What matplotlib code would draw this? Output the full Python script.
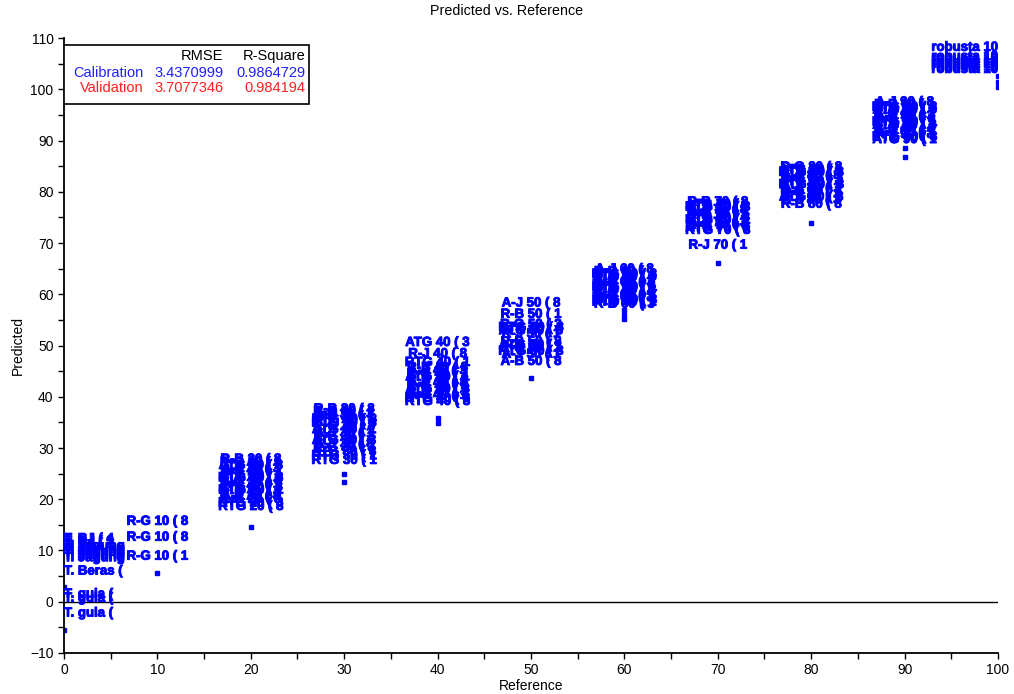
# Predicted vs. Reference plot (PLS regression style)
import matplotlib
matplotlib.use("Agg")
import matplotlib.pyplot as plt
import matplotlib.patheffects as pe
from matplotlib.patches import Rectangle

plt.rcParams['font.family'] = ['Liberation Sans', 'DejaVu Sans']

# reference level of every labelled sample group
ref_levels = [0, 10, 20, 30, 40, 50, 60, 70, 80, 90, 100]

# labels (truncated to 10 chars like the original) and predicted values
labels_0 = ["T. BJ ( 4", "T. BJ ( 3", "T. BJ ( 1", "T. Jagung", "T. Jagung", "T. Jagung",
            "T. Jagung", "T. Jagung", "T. Jagung", "T. Beras (", "T. gula ( ", "T. gula ( ",
            "T. gula ( "]
pred_0 = [12.2, 11.7, 11.2, 10.8, 10.3, 9.9, 9.5, 9.0, 8.5, 5.9, 1.4, 0.6, -2.3]

labels_10 = ["R-G 10 ( 8", "R-G 10 ( 8", "R-G 10 ( 1"]
pred_10 = [15.6, 12.5, 8.8]

labels_20 = ["R-B 20 ( 8", "R-G 20 ( 1", "ATG 20 ( 8", "A-J 20 ( 3", "R-B 20 ( 1", "ATG 20 ( 1",
             "RTG 20 ( 3", "R-G 20 ( 8", "A-J 20 ( 1", "ATG 20 ( 3", "RTG 20 ( 1", "R-B 20 ( 3",
             "A-J 20 ( 8", "R-G 20 ( 3", "RTG 20 ( 3", "RTG 20 ( 8"]
pred_20 = [27.7, 27.1, 26.5, 25.9, 25.3, 24.7, 24.1, 23.5, 22.9, 22.3, 21.7, 21.1,
           20.5, 19.9, 19.2, 18.5]

labels_30 = ["R-B 30 ( 8", "R-G 30 ( 1", "A-J 30 ( 3", "R-B 30 ( 1", "RTG 30 ( 8", "RTG 30 ( 3",
             "R-G 30 ( 8", "ATG 30 ( 1", "A-J 30 ( 1", "R-B 30 ( 3", "ATG 30 ( 3", "A-J 30 ( 8",
             "R-G 30 ( 3", "ATG 30 ( 8", "RTG 30 ( 1", "RTG 30 ( 1"]
pred_30 = [37.5, 37.0, 36.5, 36.0, 35.5, 34.8, 34.2, 33.5, 32.8, 32.1, 31.4, 30.7,
           30.0, 29.2, 28.4, 27.5]

labels_40 = ["ATG 40 ( 3", "R-J 40 ( 8", "RTG 40 ( 1", "R-B 40 ( 8", "A-J 40 ( 3", "R-G 40 ( 1",
             "ATG 40 ( 1", "R-B 40 ( 1", "A-J 40 ( 8", "R-G 40 ( 8", "ATG 40 ( 8", "R-B 40 ( 3",
             "A-J 40 ( 1", "RTG 40 ( 3", "RTG 40 ( 8"]
pred_40 = [50.5, 48.3, 46.6, 45.6, 45.0, 44.4, 43.8, 43.2, 42.6, 42.0, 41.4, 40.8,
           40.2, 39.6, 39.0]

labels_50 = ["A-J 50 ( 8", "R-B 50 ( 1", "R-G 50 ( 3", "RTG 50 ( 8", "ATG 50 ( 3", "R-J 50 ( 1",
             "R-B 50 ( 8", "ATG 50 ( 1", "R-G 50 ( 1", "RTG 50 ( 3", "A-J 50 ( 1", "A-B 50 ( 8"]
pred_50 = [58.2, 56.0, 54.0, 53.4, 52.8, 52.2, 50.6, 50.0, 49.4, 48.8, 48.2, 46.8]

labels_60 = ["A-J 60 ( 8", "R-B 60 ( 1", "RTG 60 ( 3", "ATG 60 ( 8", "R-G 60 ( 1", "A-J 60 ( 3",
             "R-B 60 ( 8", "RTG 60 ( 1", "ATG 60 ( 3", "R-G 60 ( 8", "A-J 60 ( 1", "R-J 60 ( 3",
             "RTG 60 ( 8", "ATG 60 ( 1", "R-B 60 ( 3"]
pred_60 = [64.8, 64.3, 63.8, 63.3, 62.8, 62.3, 61.8, 61.3, 60.8, 60.3, 59.8, 59.3,
           58.8, 58.4, 58.0]

labels_70 = ["R-B 70 ( 8", "ATG 70 ( 1", "RTG 70 ( 3", "A-J 70 ( 8", "R-G 70 ( 1", "R-B 70 ( 3",
             "ATG 70 ( 8", "RTG 70 ( 1", "A-J 70 ( 3", "R-G 70 ( 8", "ATG 70 ( 3", "RTG 70 ( 8",
             "R-J 70 ( 1"]
pred_70 = [77.9, 77.4, 76.9, 76.4, 75.9, 75.4, 74.9, 74.4, 73.9, 73.4, 72.9, 72.4, 69.5]

labels_80 = ["R-G 80 ( 8", "ATG 80 ( 1", "RTG 80 ( 3", "A-J 80 ( 8", "R-B 80 ( 1", "ATG 80 ( 3",
             "RTG 80 ( 8", "A-J 80 ( 1", "R-G 80 ( 3", "R-J 80 ( 1", "ATG 80 ( 8", "A-J 80 ( 3",
             "R-B 80 ( 8"]
pred_80 = [84.7, 84.2, 83.7, 83.1, 82.5, 81.9, 81.3, 80.7, 80.1, 79.5, 78.9, 78.3, 77.5]

labels_90 = ["A-J 90 ( 8", "R-B 90 ( 1", "RTG 90 ( 3", "ATG 90 ( 8", "R-G 90 ( 1", "A-J 90 ( 3",
             "R-B 90 ( 8", "RTG 90 ( 1", "ATG 90 ( 3", "R-G 90 ( 8", "A-J 90 ( 1", "R-J 90 ( 3",
             "RTG 90 ( 8", "ATG 90 ( 1"]
pred_90 = [97.4, 96.9, 96.4, 95.9, 95.3, 94.7, 94.1, 93.5, 92.9, 92.3, 91.7, 91.1, 90.6, 90.1]

labels_100 = ["robusta 10", "robusta 10", "robusta 10", "robusta 10", "robusta 10",
              "robusta 10", "robusta 10"]
pred_100 = [108.1, 106.3, 105.8, 105.3, 104.8, 104.3, 103.8]

all_labels = [labels_0, labels_10, labels_20, labels_30, labels_40, labels_50,
              labels_60, labels_70, labels_80, labels_90, labels_100]
all_preds = [pred_0, pred_10, pred_20, pred_30, pred_40, pred_50,
             pred_60, pred_70, pred_80, pred_90, pred_100]

# samples shown only as a dot (label hidden behind the others)
dot_ref = [0, 0, 10, 20, 30, 30, 40, 40, 50, 60, 60, 60, 70, 80, 90, 90, 100, 100, 100]
dot_pred = [2.9, -5.5, 5.7, 14.6, 25.0, 23.4, 35.9, 34.9, 43.7, 57.0, 56.0, 55.2, 66.1,
            74.0, 88.5, 86.8, 102.5, 101.5, 100.5]

# statistics box
stat_cols = ["RMSE", "R-Square"]
stat_rows = ["Calibration", "Validation"]
stat_vals = [["3.4370999", "0.9864729"], ["3.7077346", "0.984194"]]
stat_colors = ["#2020ff", "#ff2020"]

fig = plt.figure(figsize=(10.14, 6.94), dpi=100)
ax = fig.add_axes([0.0631, 0.0591, 0.9211, 0.8861])

# zero line
ax.axhline(0, color='black', lw=1.0, zorder=1)

# lone sample dots
ax.plot(dot_ref, dot_pred, 's', color='blue', ms=2.5, zorder=2)

# sample labels, kept inside the plot area at the edges
thick = [pe.withStroke(linewidth=0.7, foreground='blue')]
for ref, labs, preds in zip(ref_levels, all_labels, all_preds):
    if ref == 0:
        ha = 'left'
    elif ref == 100:
        ha = 'right'
    else:
        ha = 'center'
    for lab, p in zip(labs, preds):
        ax.text(ref, p, lab, color='blue', fontsize=9.5, ha=ha, va='center',
                fontweight='bold', zorder=3, path_effects=thick)

ax.set_xlim(0, 100)
ax.set_ylim(-10, 110)
ax.set_xticks(range(0, 101, 10))
ax.set_xticks(range(0, 101, 5), minor=True)
ax.set_yticks(range(-10, 111, 10))
ax.set_yticks(range(-10, 111, 5), minor=True)
ax.tick_params(which='both', direction='out', length=4, width=1, labelsize=10)
ax.spines['top'].set_visible(False)
ax.spines['right'].set_visible(False)
ax.spines['left'].set_linewidth(1.3)
ax.spines['bottom'].set_linewidth(1.3)

ax.set_xlabel('Reference', fontsize=10, labelpad=1)
ax.set_ylabel('Predicted', fontsize=10, labelpad=4)
fig.text(0.5, 0.984, 'Predicted vs. Reference', ha='center', va='center',
         fontsize=10.3)

# statistics table in the upper-left corner
box = Rectangle((0.0, 0.8927), 0.2623, 0.0959, transform=ax.transAxes,
                facecolor='white', edgecolor='black', lw=1.2, zorder=4)
ax.add_patch(box)
col_x = [0.1709, 0.2587]
row_y = [0.9712, 0.9431, 0.9187]
ax.text(col_x[0], row_y[0], stat_cols[0], transform=ax.transAxes, ha='right',
        va='center', fontsize=10.5, zorder=5)
ax.text(col_x[1], row_y[0], stat_cols[1], transform=ax.transAxes, ha='right',
        va='center', fontsize=10.5, zorder=5)
for i, (name, vals, c) in enumerate(zip(stat_rows, stat_vals, stat_colors)):
    y = row_y[i + 1]
    ax.text(0.0848, y, name, transform=ax.transAxes, ha='right', va='center',
            fontsize=10.5, color=c, zorder=5)
    for cx, v in zip(col_x, vals):
        ax.text(cx, y, v, transform=ax.transAxes, ha='right', va='center',
                fontsize=10.5, color=c, zorder=5)

fig.savefig('out.png', dpi=100, facecolor='white')
